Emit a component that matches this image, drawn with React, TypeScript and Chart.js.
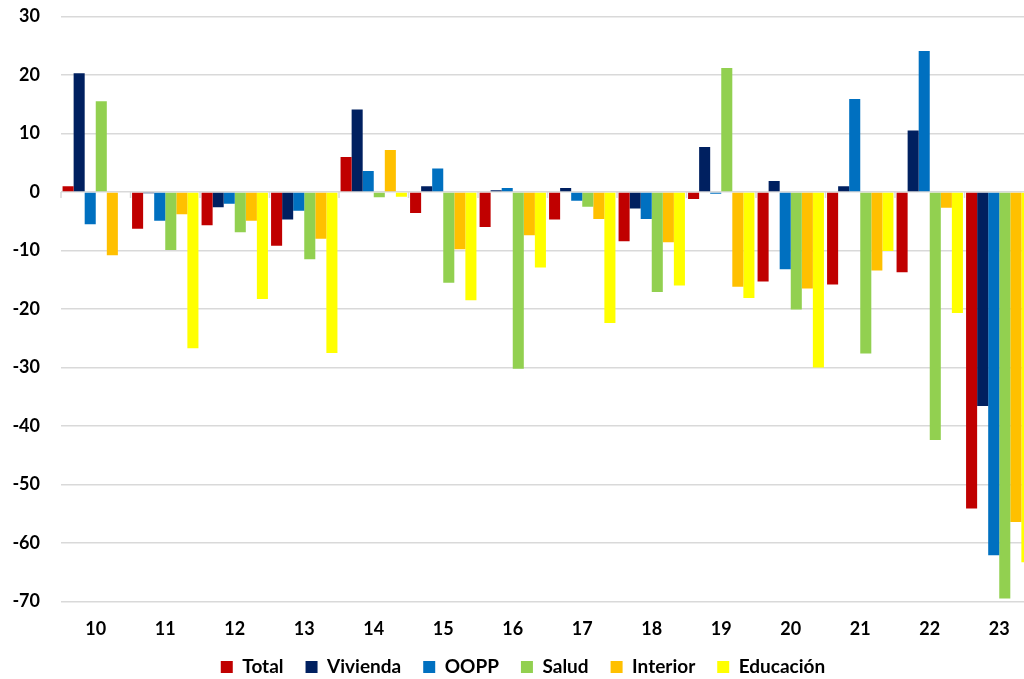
import { useEffect, useRef } from "react";
import { Chart, registerables } from "chart.js";

Chart.register(...registerables);

const categories = ["10", "11", "12", "13", "14", "15", "16", "17", "18", "19", "20", "21", "22", "23"];
const total = [1.0, -6.3, -5.7, -9.2, 6.0, -3.6, -6.0, -4.7, -8.4, -1.2, -15.3, -15.8, -13.7, -54.1];
const vivienda = [20.3, -0.2, -2.6, -4.7, 14.1, 1.0, 0.3, 0.7, -2.8, 7.7, 1.9, 1.0, 10.5, -36.6];
const oopp = [-5.5, -4.9, -2.0, -3.2, 3.6, 4.0, 0.7, -1.5, -4.6, -0.3, -13.2, 15.9, 24.1, -62.1];
const salud = [15.5, -9.9, -6.9, -11.5, -0.9, -15.5, -30.2, -2.5, -17.1, 21.2, -20.1, -27.6, -42.4, -69.5];
const interior = [-10.8, -3.8, -4.9, -8.0, 7.2, -9.8, -7.4, -4.6, -8.6, -16.2, -16.5, -13.4, -2.7, -56.4];
const educacion = [0, -26.7, -18.3, -27.5, -0.8, -18.5, -12.9, -22.4, -16.0, -18.1, -30.0, -10.1, -20.7, -63.3];

const seriesNames = ["Total", "Vivienda", "OOPP", "Salud", "Interior", "Educación"];
const seriesColors = ["#C00000", "#002060", "#0070C0", "#92D050", "#FFC000", "#FFFF00"];
const seriesData = [total, vivienda, oopp, salud, interior, educacion];

const FONT = "Lato, 'Open Sans', sans-serif";

const zeroTicks = {
  id: "zeroTicks",
  beforeDatasetsDraw(chart: any) {
    const x = chart.scales.x;
    const y = chart.scales.y;
    const ctx = chart.ctx;
    const y0 = y.getPixelForValue(0);
    const n = categories.length;
    const step = x.getPixelForValue(1) - x.getPixelForValue(0);
    ctx.save();
    ctx.strokeStyle = "#D9D9D9";
    ctx.lineWidth = 1.5;
    for (let i = 0; i <= n; i++) {
      const px = x.getPixelForValue(0) - step / 2 + i * step;
      ctx.beginPath();
      ctx.moveTo(px, y0);
      ctx.lineTo(px, y0 + 6);
      ctx.stroke();
    }
    ctx.restore();
  },
};

export default function App() {
  const ref = useRef<HTMLCanvasElement | null>(null);

  useEffect(() => {
    if (!ref.current) return;
    const chart = new Chart(ref.current, {
      type: "bar",
      data: {
        labels: categories,
        datasets: seriesNames.map((name, i) => ({
          label: name,
          data: seriesData[i],
          backgroundColor: seriesColors[i],
          borderWidth: 0,
          barPercentage: 1,
          categoryPercentage: 0.955,
        })),
      },
      options: {
        responsive: false,
        animation: false,
        layout: { padding: { left: 12, right: 0, top: 16.5, bottom: -7.5 } },
        plugins: {
          legend: {
            position: "bottom",
            labels: {
              boxWidth: 12,
              boxHeight: 12,
              padding: 22,
              color: "#000",
              font: { family: FONT, size: 19, weight: "bold" },
            },
          },
          tooltip: { enabled: false },
        },
        scales: {
          x: {
            grid: { display: false, drawTicks: false },
            border: { display: false },
            afterFit(scale: any) {
              scale.height = 34;
            },
            ticks: {
              color: "#000",
              padding: 16.5,
              font: { family: FONT, size: 18, weight: "bold" },
            },
          },
          y: {
            min: -70,
            max: 30,
            afterFit(scale: any) {
              scale.width = 49;
            },
            ticks: {
              stepSize: 10,
              color: "#000",
              padding: 0,
              font: { family: FONT, size: 18, weight: "bold" },
            },
            grid: {
              color: "#D9D9D9",
              lineWidth: 1.5,
              drawTicks: true,
              tickLength: 21,
              tickColor: "rgba(0,0,0,0)",
            },
            border: { display: false },
          },
        },
      },
      plugins: [zeroTicks],
    });
    return () => chart.destroy();
  }, []);

  return (
    <div style={{ position: "fixed", left: 0, top: 0, width: 1024, height: 679, overflow: "hidden", background: "#fff" }}>
      <canvas ref={ref} width={1034} height={679} style={{ display: "block", width: 1034, height: 679 }} />
    </div>
  );
}
